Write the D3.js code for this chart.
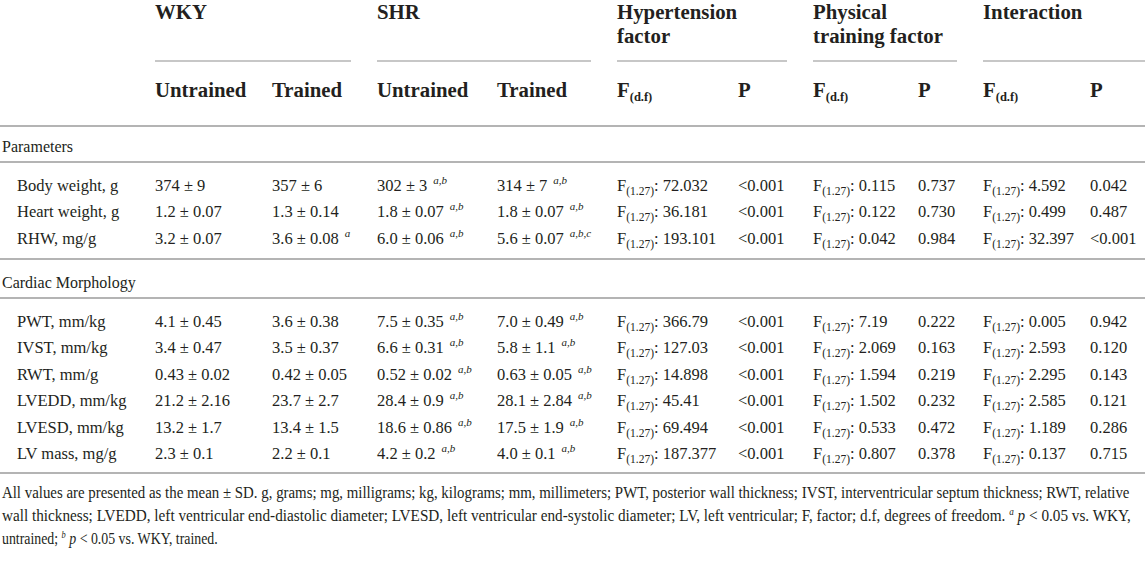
<!DOCTYPE html>
<html>
<head>
<meta charset="utf-8">
<script src="https://cdn.jsdelivr.net/npm/d3@7"></script>
<style>
  body { margin: 0; background: #fff; }
  svg { display: block; font-family: "Liberation Serif", "DejaVu Serif", serif; }
</style>
</head>
<body>
<div id="table"></div>
<script>
const width = 1145;
const height = 566;

const groupNames = ['WKY', 'SHR', 'Hypertension|factor', 'Physical|training factor', 'Interaction'];
const subHeaders = ['Untrained', 'Trained', 'Untrained', 'Trained', 'F', 'P', 'F', 'P', 'F', 'P'];
const sectionNames = ['Parameters', 'Cardiac Morphology'];

const rowLabels = ['Body weight, g', 'Heart weight, g', 'RHW, mg/g',
  'PWT, mm/kg', 'IVST, mm/kg', 'RWT, mm/g', 'LVEDD, mm/kg', 'LVESD, mm/kg', 'LV mass, mg/g'];
const rowSection = [0, 0, 0, 1, 1, 1, 1, 1, 1];

const wkyUntrained = ['374 ± 9', '1.2 ± 0.07', '3.2 ± 0.07', '4.1 ± 0.45', '3.4 ± 0.47', '0.43 ± 0.02', '21.2 ± 2.16', '13.2 ± 1.7', '2.3 ± 0.1'];
const wkyUntrainedSig = ['', '', '', '', '', '', '', '', ''];
const wkyTrained = ['357 ± 6', '1.3 ± 0.14', '3.6 ± 0.08', '3.6 ± 0.38', '3.5 ± 0.37', '0.42 ± 0.05', '23.7 ± 2.7', '13.4 ± 1.5', '2.2 ± 0.1'];
const wkyTrainedSig = ['', '', 'a', '', '', '', '', '', ''];
const shrUntrained = ['302 ± 3', '1.8 ± 0.07', '6.0 ± 0.06', '7.5 ± 0.35', '6.6 ± 0.31', '0.52 ± 0.02', '28.4 ± 0.9', '18.6 ± 0.86', '4.2 ± 0.2'];
const shrUntrainedSig = ['a,b', 'a,b', 'a,b', 'a,b', 'a,b', 'a,b', 'a,b', 'a,b', 'a,b'];
const shrTrained = ['314 ± 7', '1.8 ± 0.07', '5.6 ± 0.07', '7.0 ± 0.49', '5.8 ± 1.1', '0.63 ± 0.05', '28.1 ± 2.84', '17.5 ± 1.9', '4.0 ± 0.1'];
const shrTrainedSig = ['a,b', 'a,b', 'a,b,c', 'a,b', 'a,b', 'a,b', 'a,b', 'a,b', 'a,b'];

const hyperF = ['72.032', '36.181', '193.101', '366.79', '127.03', '14.898', '45.41', '69.494', '187.377'];
const hyperP = ['<0.001', '<0.001', '<0.001', '<0.001', '<0.001', '<0.001', '<0.001', '<0.001', '<0.001'];
const trainingF = ['0.115', '0.122', '0.042', '7.19', '2.069', '1.594', '1.502', '0.533', '0.807'];
const trainingP = ['0.737', '0.730', '0.984', '0.222', '0.163', '0.219', '0.232', '0.472', '0.378'];
const interactionF = ['4.592', '0.499', '32.397', '0.005', '2.593', '2.295', '2.585', '1.189', '0.137'];
const interactionP = ['0.042', '0.487', '<0.001', '0.942', '0.120', '0.143', '0.121', '0.286', '0.715'];

const ink = '#231f20';
const rule = '#b4b4b4';

const colKeys = d3.range(subHeaders.length);
const x = d3.scaleOrdinal().domain(colKeys).range([155, 272, 377, 497, 617, 738, 813, 918, 983, 1090]);
// each group starts at its first column
const groupStart = [0, 2, 4, 6, 8];

// row baselines, one start per section
const sectionTop = d3.scaleOrdinal().domain([0, 1]).range([191, 327]);
const rowStep = d3.scaleLinear().domain([0, 1]).range([0, 26.4]);

const svg = d3.select('#table').append('svg')
  .attr('width', width)
  .attr('height', height);

// ---- header
const head = svg.append('g').attr('fill', ink).attr('font-weight', 'bold').attr('font-size', 20.8);

groupNames.forEach((name, i) => {
  const t = head.append('text').attr('x', x(groupStart[i])).attr('y', 19);
  name.split('|').forEach((part, j) => {
    t.append('tspan').attr('x', x(groupStart[i])).attr('dy', j ? 24 : 0).text(part);
  });
  const x1 = i < groupNames.length - 1 ? x(groupStart[i + 1]) - 26 : width;
  svg.append('line')
    .attr('x1', x(groupStart[i])).attr('x2', x1)
    .attr('y1', 61).attr('y2', 61)
    .attr('stroke', rule).attr('stroke-width', 1.6);
});

subHeaders.forEach((h, i) => {
  const t = head.append('text').attr('x', x(i)).attr('y', 97).text(h);
  if (h === 'F') {
    t.append('tspan').attr('font-size', 12.5).attr('dy', 4).text('(d.f)');
  }
});

// ---- full width rules
const rules = [126, 162, 259, 298, 473];
svg.append('g').selectAll('line').data(rules).join('line')
  .attr('x1', 0).attr('x2', width)
  .attr('y1', d => d).attr('y2', d => d)
  .attr('stroke', rule).attr('stroke-width', 2);

// ---- section labels
const sectionLabelY = [152, 288];
svg.append('g').attr('fill', ink).attr('font-size', 16)
  .selectAll('text').data(sectionNames).join('text')
  .attr('x', 2)
  .attr('y', (d, i) => sectionLabelY[i])
  .text(d => d);

// ---- body rows
const rowY = i => {
  const s = rowSection[i];
  const first = rowSection.indexOf(s);
  return sectionTop(s) + rowStep(i - first);
};

const body = svg.append('g').attr('fill', ink).attr('font-size', 16.5);

body.selectAll('text.label').data(rowLabels).join('text')
  .attr('class', 'label')
  .attr('x', 17).attr('y', (d, i) => rowY(i))
  .text(d => d);

const valueCols = [
  [wkyUntrained, wkyUntrainedSig],
  [wkyTrained, wkyTrainedSig],
  [shrUntrained, shrUntrainedSig],
  [shrTrained, shrTrainedSig]
];

valueCols.forEach(([vals, sig], c) => {
  vals.forEach((v, i) => {
    const t = body.append('text').attr('x', x(c)).attr('y', rowY(i)).text(v);
    if (sig[i]) {
      t.append('tspan').attr('font-size', 11).attr('font-style', 'italic')
        .attr('dx', 6).attr('dy', -7).text(sig[i]);
    }
  });
});

const statCols = [hyperF, hyperP, trainingF, trainingP, interactionF, interactionP];
statCols.forEach((vals, k) => {
  const c = k + 4;
  vals.forEach((v, i) => {
    const t = body.append('text').attr('x', x(c)).attr('y', rowY(i));
    if (k % 2 === 0) {
      t.append('tspan').text('F');
      t.append('tspan').attr('font-size', 11.5).attr('dy', 4).text('(1.27)');
      t.append('tspan').attr('dy', -4).text(': ' + v);
    } else {
      t.text(v);
    }
  });
});

// ---- footnote, squeezed to the column width like the condensed original
const notes = [
  [['All values are presented as the mean ± SD. g, grams; mg, milligrams; kg, kilograms; mm, millimeters; PWT, posterior wall thickness; IVST, interventricular septum thickness; RWT, relative']],
  [['wall thickness; LVEDD, left ventricular end-diastolic diameter; LVESD, left ventricular end-systolic diameter; LV, left ventricular; F, factor; d.f, degrees of freedom. '],
   ['a', 'sup'], [' '], ['p', 'i'], [' < 0.05 vs. WKY,']],
  [['untrained; '], ['b', 'sup'], [' '], ['p', 'i'], [' < 0.05 vs. WKY, trained.']]
];
const noteWidth = [1128, 1130, 216];
const noteY = [498, 521, 544];

notes.forEach((parts, i) => {
  const g = svg.append('g');
  const t = g.append('text').attr('fill', ink).attr('font-size', 16.5);
  let raised = false;
  parts.forEach(([s, style]) => {
    const ts = t.append('tspan').text(s);
    if (style === 'sup') {
      ts.attr('font-style', 'italic').attr('font-size', 10).attr('dy', -6);
      raised = true;
      return;
    }
    if (style === 'i') ts.attr('font-style', 'italic');
    if (raised) { ts.attr('dy', 6); raised = false; }
  });
  const w = t.node().getComputedTextLength();
  g.attr('transform', 'translate(2,' + noteY[i] + ') scale(' + (noteWidth[i] / w) + ',1)');
});
</script>
</body>
</html>
